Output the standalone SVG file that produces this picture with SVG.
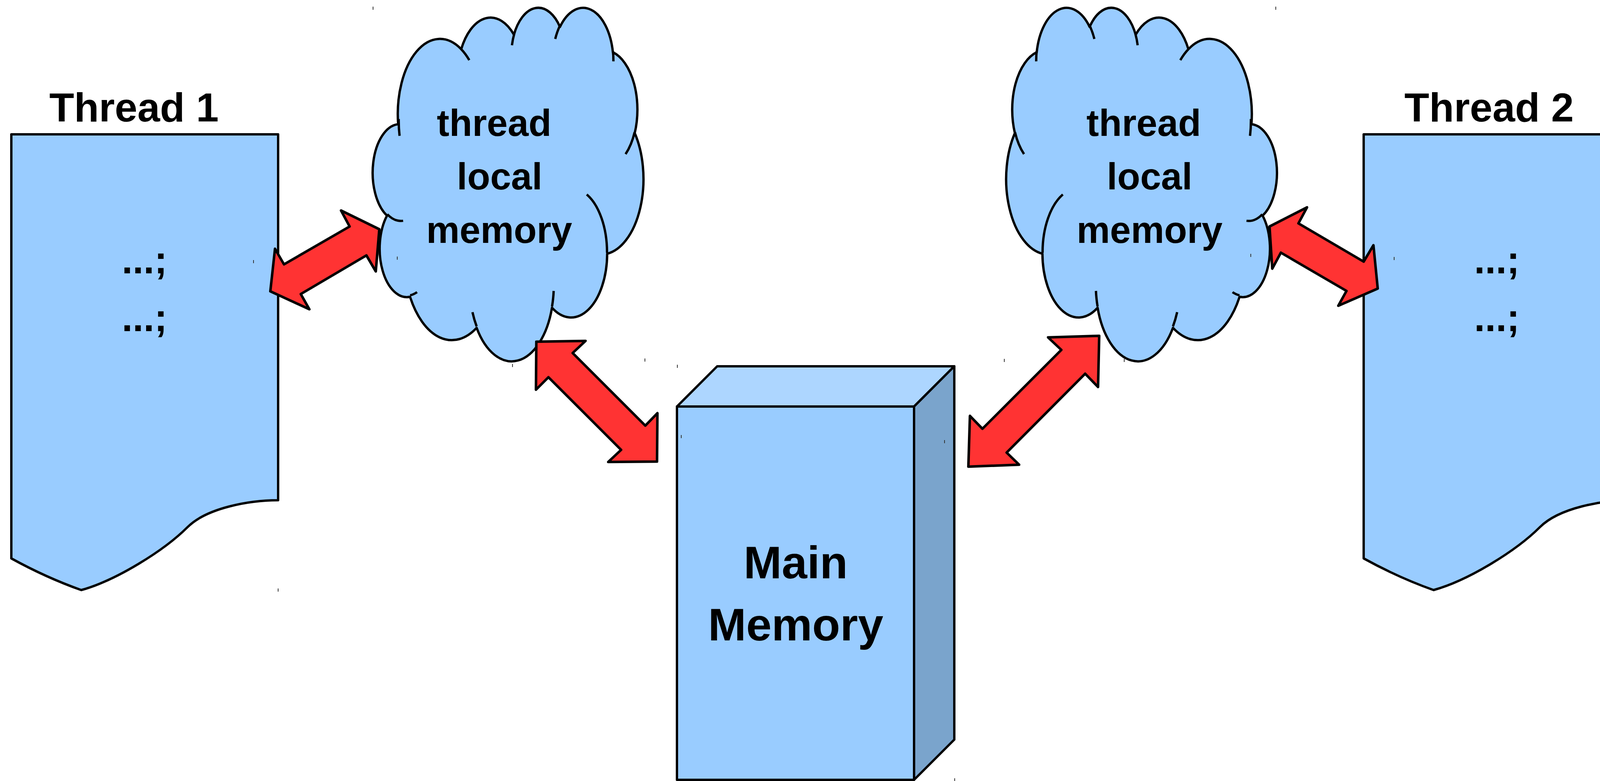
<svg xmlns="http://www.w3.org/2000/svg" width="4168" height="2000" viewBox="0 0 4168 2000">
<style>
.shape{fill:#99ccff;stroke:#000;stroke-width:6;stroke-linejoin:round}
.inner{fill:none;stroke:#000;stroke-width:6}
.top{fill:#add6ff;stroke:#000;stroke-width:6;stroke-linejoin:round}
.side{fill:#7aa4cc;stroke:#000;stroke-width:6;stroke-linejoin:round}
.arrow{fill:#ff3333;stroke:#000;stroke-width:6.5;stroke-linejoin:round}
.lbl{font-family:"Liberation Sans",Arial,sans-serif;font-weight:bold;fill:#000;text-anchor:middle}
.mark{stroke:#333;stroke-width:2}
</style>
<defs>
<path id="docShape" d="M 29 344 H 712 V 1281 C 640 1281 530 1300 480 1350 C 420 1410 298 1486 208 1511 Q 118 1479 29 1430 Z"/>
<g id="cloudShape">
<path class="shape" d="M 1019.3 318.0 A 107.86 192.52 0 0 1 1180.7 126.0 A 85.18 152.24 0 0 1 1315.7 88.8 A 69.72 124.54 0 0 1 1433.5 68.9 A 77.58 138.16 0 0 1 1569.0 133.8 A 85.18 152.36 0 0 1 1624.9 340.8 A 108.21 193.15 0 0 1 1554.4 649.7 A 92.40 164.81 0 0 1 1413.1 788.1 A 107.84 193.04 0 0 1 1220.2 839.5 A 123.30 220.86 0 0 1 1049.7 760.0 A 69.64 123.98 0 0 1 990.7 552.2 A 69.40 124.54 0 0 1 1019.3 318.0 Z"/>
<path class="inner" d="M 1032.0 565.4 A 69.40 124.54 0 0 1 991.5 548.7 M 1067.7 748.1 A 69.64 123.98 0 0 1 1049.9 756.1 M 1220.2 835.9 A 107.84 193.04 0 0 1 1209.5 799.4 M 1417.4 745.0 A 107.84 193.04 0 0 1 1413.2 785.0 M 1502.1 497.9 A 92.40 164.81 0 0 1 1554.0 647.4 M 1624.6 338.7 A 85.18 152.36 0 0 1 1601.5 394.7 M 1569.1 130.7 A 77.58 138.16 0 0 1 1570.3 157.1 M 1421.4 99.8 A 77.58 138.16 0 0 1 1433.3 66.0 M 1310.6 115.9 A 69.72 124.54 0 0 1 1316.4 86.8 M 1180.6 125.8 A 107.86 192.52 0 0 1 1201.4 154.0 M 1022.9 347.8 A 107.86 192.52 0 0 1 1020.7 304.7"/>
</g>
</defs>
<rect x="0" y="0" width="4168" height="2000" fill="#fff"/>

<g id="thread1">
<use href="#docShape" class="shape"/>
<text class="lbl" x="343" y="311" font-size="104">Thread 1</text>
<text class="lbl" x="370" y="700" font-size="100">...;</text>
<text class="lbl" x="370" y="848" font-size="100">...;</text>
</g>

<g id="thread2">
<use href="#docShape" class="shape" transform="translate(3462,0)"/>
<text class="lbl" x="3812" y="311" font-size="104">Thread 2</text>
<text class="lbl" x="3832" y="700" font-size="100">...;</text>
<text class="lbl" x="3832" y="848" font-size="100">...;</text>
</g>

<g id="cloud1">
<use href="#cloudShape"/>
<text class="lbl" x="1265" y="348" font-size="96">thread</text>
<text class="lbl" x="1279" y="485" font-size="96">local</text>
<text class="lbl" x="1278" y="622" font-size="96">memory</text>
</g>

<g id="cloud2">
<use href="#cloudShape" transform="translate(4223,0) scale(-1,1)"/>
<text class="lbl" x="2928" y="348" font-size="96">thread</text>
<text class="lbl" x="2943" y="485" font-size="96">local</text>
<text class="lbl" x="2943" y="622" font-size="96">memory</text>
</g>

<g id="main-memory">
<polygon class="top" points="1733,1041 1836,938 2443,938 2340,1041"/>
<polygon class="side" points="2340,1041 2443,938 2443,1894 2340,1997"/>
<rect class="shape" x="1733" y="1041" width="607" height="956"/>
<text class="lbl" x="2037" y="1481" font-size="117">Main</text>
<text class="lbl" x="2037" y="1640" font-size="117">Memory</text>
</g>

<g id="connectors">
<polygon class="arrow" points="692,746 704,637 727,677 895,580 873,539 971,587 962,695 938,654 770,753 792,792"/>
<polygon class="arrow" points="1373,875 1499,873 1466,904 1652,1090 1683,1058 1682,1182 1557,1183 1590,1152 1404,966 1372,998"/>
<polygon class="arrow" points="2814,860 2683,864 2717,896 2515,1098 2483,1065 2479,1195 2609,1190 2577,1159 2778,957 2811,991"/>
<polygon class="arrow" points="3250,580 3346,531 3324,572 3491,670 3516,628 3527,739 3426,783 3447,745 3279,647 3257,688"/>
</g>

<g id="marks" class="mark">
<line x1="955" y1="17" x2="955" y2="25"/>
<line x1="3266" y1="17" x2="3266" y2="25"/>
<line x1="649" y1="666" x2="649" y2="674"/>
<line x1="1017" y1="657" x2="1017" y2="665"/>
<line x1="3202" y1="650" x2="3202" y2="658"/>
<line x1="3569" y1="658" x2="3569" y2="666"/>
<line x1="1312" y1="932" x2="1312" y2="940"/>
<line x1="1651" y1="918" x2="1651" y2="926"/>
<line x1="1734" y1="934" x2="1734" y2="942"/>
<line x1="2571" y1="919" x2="2571" y2="927"/>
<line x1="2878" y1="919" x2="2878" y2="927"/>
<line x1="1744" y1="1114" x2="1744" y2="1122"/>
<line x1="2418" y1="1127" x2="2418" y2="1135"/>
<line x1="712" y1="1507" x2="712" y2="1515"/>
<line x1="2444" y1="1993" x2="2444" y2="2000"/>
</g>
</svg>
